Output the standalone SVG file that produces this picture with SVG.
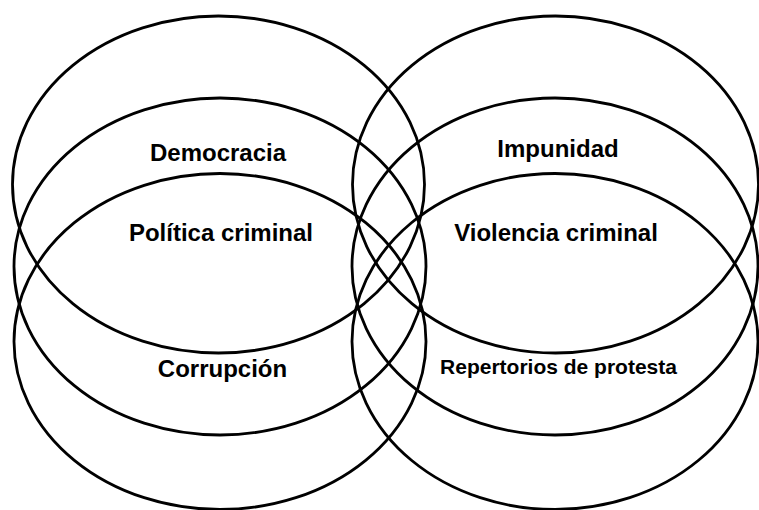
<svg xmlns="http://www.w3.org/2000/svg" width="759" height="510" viewBox="0 0 759 510">
<style>
.e{fill:none;stroke:#000;stroke-width:2.8}
.t{font-family:"Liberation Sans",Arial,sans-serif;font-weight:bold;font-size:24px;fill:#000;text-anchor:middle}
.s{font-size:21px}
</style>
<rect width="759" height="510" fill="#fff"/>
<g id="democracia"><ellipse class="e" cx="218.5" cy="184.5" rx="206" ry="168.5"/><text class="t" x="218" y="161">Democracia</text></g>
<g id="politica-criminal"><ellipse class="e" cx="220" cy="266.5" rx="206" ry="168.5"/><text class="t" x="221" y="241">Política criminal</text></g>
<g id="corrupcion"><ellipse class="e" cx="220" cy="341.5" rx="206" ry="168"/><text class="t" x="222.5" y="377">Corrupción</text></g>
<g id="impunidad"><ellipse class="e" cx="555.5" cy="184.5" rx="203" ry="168.5"/><text class="t" x="558" y="157">Impunidad</text></g>
<g id="violencia-criminal"><ellipse class="e" cx="555" cy="266.5" rx="203" ry="168.5"/><text class="t" x="556" y="241">Violencia criminal</text></g>
<g id="repertorios"><ellipse class="e" cx="555" cy="341.5" rx="203" ry="168"/><text class="t s" x="558.5" y="374">Repertorios de protesta</text></g>
<g id="connectors"></g>
</svg>
